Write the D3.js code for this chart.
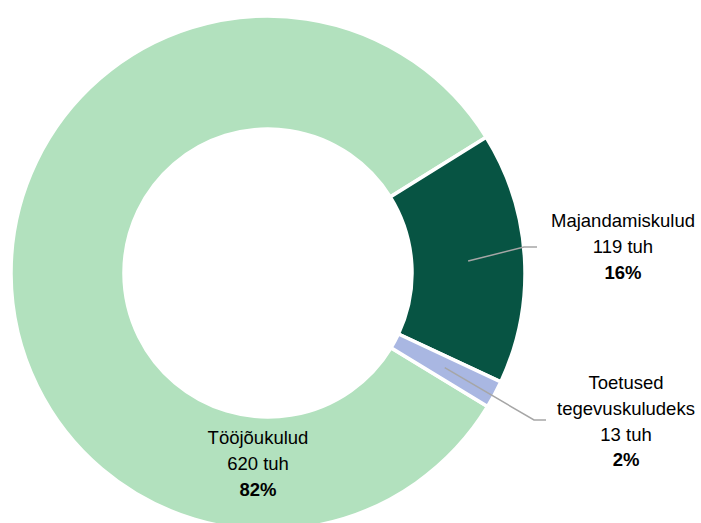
<!DOCTYPE html>
<html><head><meta charset="utf-8">
<script src="https://cdn.jsdelivr.net/npm/d3@7"></script>
<style>body{margin:0;background:#fff}svg{display:block}</style>
</head><body>
<svg id="chart" width="701" height="523"></svg>
<script>
const categories = ["Tööjõukulud", "Majandamiskulud", "Toetused tegevuskuludeks"];
const labelLines = [["Tööjõukulud"], ["Majandamiskulud"], ["Toetused", "tegevuskuludeks"]];
const values = [620, 119, 13];
const unit = "tuh";
const colors = ["#B2E1BE", "#075443", "#A9B7E2"];

const svg = d3.select("#chart");
const cx = 268, cy = 273, rOuter = 257, rInner = 144;
const g = svg.append("g").attr("transform", `translate(${cx},${cy})`);
const total = d3.sum(values);
const start = 121.3 * Math.PI / 180;
const pie = d3.pie().sort(null).startAngle(start).endAngle(start + 2 * Math.PI);
const arcs = pie(values);
const arc = d3.arc().innerRadius(rInner).outerRadius(rOuter);

g.selectAll("path.slice").data(arcs).join("path")
  .attr("class", "slice")
  .attr("d", arc)
  .attr("fill", (d, i) => colors[i])
  .attr("stroke", "#fff")
  .attr("stroke-width", 3.5)
  .attr("stroke-linejoin", "miter");

// label anchor positions (center x, first baseline y) and leader lines
const labelPos = [
  {x: 258, y: 444, leader: null},
  {x: 623, y: 227, leader: {bx: 524, by: 247, ex: 537}},
  {x: 626, y: 389, leader: {bx: 534, by: 420, ex: 546}}
];
const lineH = 25.8;

arcs.forEach((d, i) => {
  const p = labelPos[i];
  if (p.leader) {
    const c = arc.centroid(d);
    const L = p.leader;
    svg.append("polyline")
      .attr("points", `${cx + c[0]},${cy + c[1]} ${L.bx},${L.by} ${L.ex},${L.by}`)
      .attr("fill", "none").attr("stroke", "#A6A6A6").attr("stroke-width", 1.5);
  }
  const lines = labelLines[i].concat([`${values[i]} ${unit}`]);
  const pct = Math.round(values[i] / total * 100) + "%";
  const t = svg.append("text")
    .attr("text-anchor", "middle")
    .attr("font-family", "'Liberation Sans', Arial, sans-serif")
    .attr("font-size", 18.5)
    .attr("fill", "#000");
  lines.forEach((s, k) => {
    t.append("tspan").attr("x", p.x).attr("y", p.y + k * lineH).text(s);
  });
  t.append("tspan").attr("x", p.x).attr("y", p.y + lines.length * lineH)
    .attr("font-weight", "bold").text(pct);
});
</script>
</body></html>
